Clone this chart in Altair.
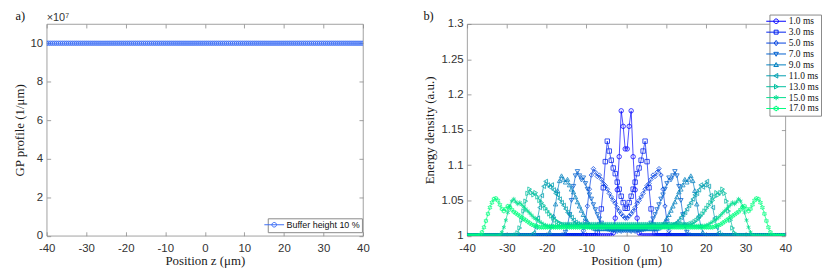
import altair as alt
import pandas as pd

# ---------------- panel a) data ----------------
pos_a = [-40 + 0.5 * i for i in range(161)]          # position z (um)
gp_profile_e7 = [10.0] * 161                          # GP profile in units of 1e7 (1/um)
label_a = "Buffer height 10 %"
color_a = "#3d6ef5"

# ---------------- panel b) data ----------------
times = ["1.0 ms", "3.0 ms", "5.0 ms", "7.0 ms", "9.0 ms",
         "11.0 ms", "13.0 ms", "15.0 ms", "17.0 ms"]
colors_b = ["#0000FF", "#0020EF", "#0040DF", "#0060CF", "#0080BF",
            "#009FAF", "#00BF9F", "#00DF8F", "#00FF80"]
half_pos = [0.25 + 0.5 * i for i in range(80)]        # |position| (um), profiles are symmetric

e_01 = [1.123, 1.155, 1.177, 1.112, 1.065, 1.025, 1.004]
e_03 = [1.039, 1.047, 1.056, 1.066, 1.076, 1.088, 1.096, 1.107, 1.120, 1.134,
        1.105, 1.068, 1.038, 1.015, 1.004]
e_05 = [1.025, 1.028, 1.031, 1.035, 1.040, 1.046, 1.050, 1.055, 1.060, 1.066,
        1.071, 1.074, 1.080, 1.086, 1.084, 1.090, 1.095, 1.086, 1.066, 1.042,
        1.020, 1.007, 1.001]
e_07 = [1.007, 1.007, 1.006, 1.007, 1.006, 1.007, 1.007, 1.008, 1.008, 1.009,
        1.011, 1.014, 1.018, 1.024, 1.030, 1.037, 1.044, 1.052, 1.058, 1.066,
        1.074, 1.082, 1.079, 1.085, 1.091, 1.085, 1.070, 1.050, 1.030, 1.014,
        1.005, 1.001]
e_09 = [1.010] * 16 + [1.011, 1.013, 1.016, 1.020, 1.025, 1.030, 1.036, 1.042,
        1.048, 1.055, 1.062, 1.066, 1.072, 1.080, 1.076, 1.080, 1.085, 1.078,
        1.064, 1.045, 1.028, 1.014, 1.005, 1.001]
e_11 = [1.013] * 22 + [1.014, 1.015, 1.017, 1.019, 1.022, 1.026, 1.030, 1.033,
        1.038, 1.043, 1.047, 1.052, 1.058, 1.060, 1.065, 1.072, 1.069, 1.072,
        1.077, 1.070, 1.057, 1.040, 1.025, 1.012, 1.004, 1.001]
e_13 = [1.016] * 32 + [1.017, 1.018, 1.020, 1.022, 1.025, 1.028, 1.031, 1.035,
        1.039, 1.043, 1.047, 1.050, 1.055, 1.061, 1.058, 1.061, 1.066, 1.060,
        1.049, 1.035, 1.022, 1.011, 1.004, 1.001]
e_15 = [1.014] * 40 + [1.015, 1.016, 1.018, 1.020, 1.022, 1.024, 1.026, 1.029,
        1.032, 1.035, 1.038, 1.041, 1.044, 1.047, 1.045, 1.048, 1.052, 1.049,
        1.042, 1.033, 1.022, 1.012, 1.005, 1.001]
e_17 = [1.012] * 44 + [1.013, 1.014, 1.015, 1.016, 1.018, 1.020, 1.022, 1.024,
        1.026, 1.028, 1.030, 1.032, 1.034, 1.037, 1.040, 1.042, 1.038, 1.035,
        1.038, 1.044, 1.050, 1.053, 1.052, 1.047, 1.040, 1.031, 1.021, 1.012,
        1.005, 1.001]
halves = [e_01, e_03, e_05, e_07, e_09, e_11, e_13, e_15, e_17]
baseline = 1.0

# ---------------- marker shapes ----------------
ast = "M0,-1L0,1M-0.87,-0.5L0.87,0.5M-0.87,0.5L0.87,-0.5"
hexa = ("M0,-1L0.29,-0.5L0.87,-0.5L0.58,0L0.87,0.5L0.29,0.5L0,1L-0.29,0.5"
        "L-0.87,0.5L-0.58,0L-0.87,-0.5L-0.29,-0.5Z")
shapes_b = ["circle", "square", "diamond", "triangle-down", "triangle-up",
            "triangle-left", "triangle-right", ast, hexa]
LN = "M-3,0L3,0"
leg_shapes_b = [
    LN + "M-0.7,0A0.7,0.7 0 1,0 0.7,0A0.7,0.7 0 1,0 -0.7,0",
    LN + "M-0.6,-0.6L0.6,-0.6L0.6,0.6L-0.6,0.6Z",
    LN + "M0,-0.8L0.6,0L0,0.8L-0.6,0Z",
    LN + "M-0.7,-0.5L0.7,-0.5L0,0.7Z",
    LN + "M-0.7,0.5L0.7,0.5L0,-0.7Z",
    LN + "M0.5,-0.7L0.5,0.7L-0.7,0Z",
    LN + "M-0.5,-0.7L-0.5,0.7L0.7,0Z",
    LN + "M0,-0.8L0,0.8M-0.7,-0.4L0.7,0.4M-0.7,0.4L0.7,-0.4",
    LN + ("M0,-0.8L0.23,-0.4L0.69,-0.4L0.46,0L0.69,0.4L0.23,0.4L0,0.8L-0.23,0.4"
          "L-0.69,0.4L-0.46,0L-0.69,-0.4L-0.23,-0.4Z"),
]

# ---------------- tables ----------------
df_a = pd.DataFrame({"pos": pos_a, "val": gp_profile_e7, "series": [label_a] * len(pos_a)})

rows = []
for lab, half in zip(times, halves):
    vals = half + [baseline] * (len(half_pos) - len(half))
    full_pos = [-p for p in reversed(half_pos)] + half_pos
    full_val = list(reversed(vals)) + vals
    for p, v in zip(full_pos, full_val):
        rows.append({"pos": p, "val": v, "series": lab})
df_b = pd.DataFrame(rows)

# ---------------- styling ----------------
AX = dict(grid=False, domain=False, tickColor="#8a8a8a", tickWidth=0.8, tickSize=4, offset=-4,
          minExtent=0, labelFont="Liberation Sans", labelFontSize=11.5, labelColor="#333333",
          titleFont="Liberation Serif", titleFontSize=13, titleFontWeight="normal",
          titleColor="#1a1a1a")
xvals = [-40, -30, -20, -10, 0, 10, 20, 30, 40]
lab_expr = "'' + datum.value"

def x_axis(title):
    return alt.Axis(values=xvals, labelExpr=lab_expr, labelFlush=False, labelPadding=7,
                    titlePadding=0, title=title, **AX)

def top_axis():
    return alt.Axis(orient="top", values=xvals, labels=False, title=None, **AX)

def y_axis(vals, title):
    return alt.Axis(values=vals, labelExpr=lab_expr, labelPadding=4, titlePadding=4,
                    title=title, **AX)

def right_axis(vals):
    return alt.Axis(orient="right", values=vals, labels=False, title=None, **AX)

def corner_text(txt, dx, dy, font, size):
    return alt.Chart(pd.DataFrame({"t": [txt]})).mark_text(
        align="left", baseline="alphabetic", font=font, fontSize=size, color="#111111"
    ).encode(x=alt.value(dx), y=alt.value(dy), text="t:N")

W_A, W_B, H = 319, 321, 213.6

# ---------------- panel a) ----------------
xs_a = alt.Scale(domain=[-40, 40], nice=False, zero=False)
ys_a = alt.Scale(domain=[0, 11], nice=False)
yvals_a = [0, 2, 4, 6, 8, 10]
col_a = alt.Scale(domain=[label_a], range=[color_a])
base_a = alt.Chart(df_a)

line_a = base_a.mark_line(strokeWidth=1, opacity=0.8, clip=True).encode(
    x=alt.X("pos:Q", scale=xs_a, axis=x_axis("Position z (μm)")),
    y=alt.Y("val:Q", scale=ys_a, axis=y_axis(yvals_a, "GP profile (1/μm)")),
    color=alt.Color("series:N", scale=col_a, legend=None),
)
pts_a = base_a.mark_point(filled=False, size=20, strokeWidth=0.9, opacity=0.9, clip=True).encode(
    x=alt.X("pos:Q", scale=xs_a, axis=None),
    y=alt.Y("val:Q", scale=ys_a, axis=None),
    color=alt.Color("series:N", scale=col_a, legend=None),
    shape=alt.Shape("series:N", scale=alt.Scale(domain=[label_a], range=["circle"]), legend=None),
)
leg_a = alt.Legend(title=None, orient="none", legendX=223, legendY=196,
                   symbolSize=44, symbolStrokeWidth=1, labelFont="Liberation Sans",
                   labelFontSize=9, labelColor="#111111", fillColor="white",
                   strokeColor="#8a8a8a", padding=2, labelOffset=8, symbolOpacity=1)
ghost_a = base_a.mark_point(filled=False, opacity=0).encode(
    x=alt.X("pos:Q", scale=xs_a, axis=top_axis()),
    y=alt.Y("val:Q", scale=ys_a, axis=right_axis(yvals_a)),
    color=alt.Color("series:N", scale=col_a, legend=leg_a),
    shape=alt.Shape("series:N", scale=alt.Scale(domain=[label_a], range=[leg_shapes_b[0]]),
                    legend=leg_a),
)
exp_a = alt.Chart(pd.DataFrame({"t": ["×10⁷"]})).mark_text(
    align="left", baseline="alphabetic", font="Liberation Sans", fontSize=11, color="#333333"
).encode(x=alt.value(0), y=alt.value(-2.7), text="t:N")
tag_a = corner_text("a)", -31.5, -4.2, "Liberation Serif", 12.5)

panel_a = alt.layer(line_a, pts_a, ghost_a, exp_a, tag_a).resolve_scale(
    color="independent", shape="independent").resolve_axis(
    x="independent", y="independent").properties(width=W_A, height=H)

# ---------------- panel b) ----------------
xs_b = alt.Scale(domain=[-40, 40], nice=False, zero=False)
ys_b = alt.Scale(domain=[1, 1.3], nice=False, zero=False)
yvals_b = [1, 1.05, 1.1, 1.15, 1.2, 1.25, 1.3]
col_b = alt.Scale(domain=times, range=colors_b)
base_b = alt.Chart(df_b)

line_b = base_b.mark_line(strokeWidth=1, opacity=0.7, clip=True).encode(
    x=alt.X("pos:Q", scale=xs_b, axis=x_axis("Position (μm)")),
    y=alt.Y("val:Q", scale=ys_b, axis=y_axis(yvals_b, "Energy density (a.u.)")),
    color=alt.Color("series:N", scale=col_b, legend=None),
)
pts_b = base_b.mark_point(filled=False, size=20, strokeWidth=0.9, opacity=0.85, clip=True).encode(
    x=alt.X("pos:Q", scale=xs_b, axis=None),
    y=alt.Y("val:Q", scale=ys_b, axis=None),
    color=alt.Color("series:N", scale=col_b, legend=None),
    shape=alt.Shape("series:N", scale=alt.Scale(domain=times, range=shapes_b), legend=None),
)
leg_b = alt.Legend(title=None, orient="none", legendX=305, legendY=-9.5,
                   symbolSize=44, symbolStrokeWidth=1, labelFont="Liberation Serif",
                   labelFontSize=9.5, labelColor="#111111", fillColor="white",
                   strokeColor="#8a8a8a", padding=2, labelOffset=8, rowPadding=0,
                   symbolOpacity=1)
ghost_b = base_b.mark_point(filled=False, opacity=0).encode(
    x=alt.X("pos:Q", scale=xs_b, axis=top_axis()),
    y=alt.Y("val:Q", scale=ys_b, axis=right_axis(yvals_b)),
    color=alt.Color("series:N", scale=col_b, legend=leg_b),
    shape=alt.Shape("series:N", scale=alt.Scale(domain=times, range=leg_shapes_b), legend=leg_b),
)
tag_b = corner_text("b)", -44, -4.2, "Liberation Serif", 12.5)

panel_b = alt.layer(line_b, pts_b, ghost_b, tag_b).resolve_scale(
    color="independent", shape="independent").resolve_axis(
    x="independent", y="independent").properties(width=W_B, height=H)

chart = alt.hconcat(panel_a, panel_b, spacing=51).properties(
    padding={"left": 4, "top": 0, "right": 0, "bottom": 0}
).configure_view(stroke="#8a8a8a", strokeWidth=0.8)

chart.save("out.html", embed_options={"renderer": "svg", "actions": False})
